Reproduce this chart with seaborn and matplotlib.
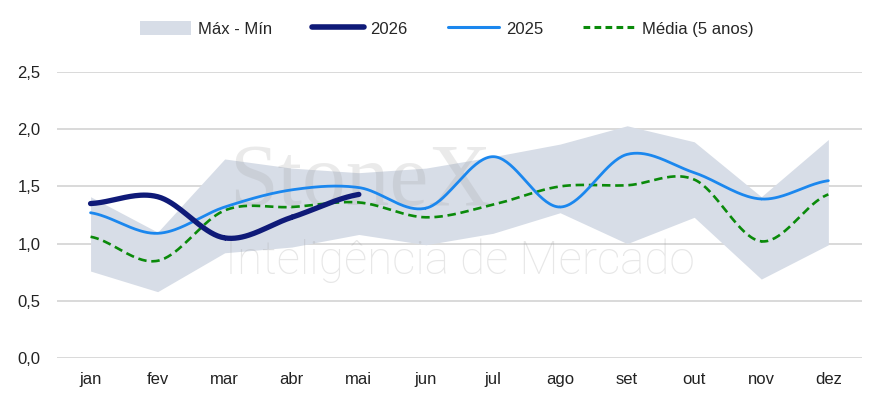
import numpy as np
import pandas as pd
import matplotlib
matplotlib.use("Agg")
import matplotlib.pyplot as plt
import seaborn as sns
from matplotlib.patches import Patch
from matplotlib.lines import Line2D

months = ["jan", "fev", "mar", "abr", "mai", "jun", "jul", "ago", "set", "out", "nov", "dez"]
max_vals = [1.41, 1.10, 1.74, 1.66, 1.62, 1.66, 1.76, 1.87, 2.03, 1.89, 1.41, 1.91]
min_vals = [0.76, 0.58, 0.92, 0.97, 1.08, 0.99, 1.09, 1.27, 1.00, 1.23, 0.69, 0.99]
vals_2026 = [1.35, 1.41, 1.05, 1.23, 1.43]
vals_2025 = [1.27, 1.09, 1.32, 1.47, 1.49, 1.31, 1.76, 1.32, 1.78, 1.62, 1.39, 1.55]
media_5y = [1.06, 0.85, 1.29, 1.32, 1.36, 1.23, 1.34, 1.50, 1.51, 1.56, 1.02, 1.43]


def smooth(values, n=40):
    # catmull-rom curve through the monthly points (like excel "smoothed line")
    y = np.asarray(values, dtype=float)
    p = np.concatenate([[y[0]], y, [y[-1]]])
    xs, ys = [], []
    for i in range(len(y) - 1):
        p0, p1, p2, p3 = p[i], p[i + 1], p[i + 2], p[i + 3]
        t = np.linspace(0, 1, n)
        seg = 0.5 * ((2 * p1) + (-p0 + p2) * t + (2 * p0 - 5 * p1 + 4 * p2 - p3) * t ** 2
                     + (-p0 + 3 * p1 - 3 * p2 + p3) * t ** 3)
        xs.append(i + t)
        ys.append(seg)
    return np.concatenate(xs), np.concatenate(ys)


sns.set_theme(style="white")
plt.rcParams["font.family"] = ["Liberation Sans", "DejaVu Sans"]

fig = plt.figure(figsize=(8.84, 4.08), dpi=100)
ax = fig.add_axes([0.0645, 0.1225, 0.9105, 0.701])

band_col = "#d7dde7"
c2026 = "#0f1a78"
c2025 = "#1b87ee"
cmed = "#0a8a0a"

x = np.arange(len(months))
ax.fill_between(x, min_vals, max_vals, color=band_col, lw=0, zorder=1)

xs, ys = smooth(media_5y)
sns.lineplot(x=xs, y=ys, ax=ax, color=cmed, lw=1.9, sort=False, estimator=None,
             linestyle=(0, (3.2, 1.8)), zorder=3)
xs, ys = smooth(vals_2025)
sns.lineplot(x=xs, y=ys, ax=ax, color=c2025, lw=2.0, sort=False, estimator=None, zorder=4)
xs, ys = smooth(vals_2026)
sns.lineplot(x=xs, y=ys, ax=ax, color=c2026, lw=3.8, sort=False, estimator=None, zorder=5)
ax.lines[-1].set_solid_capstyle("round")

# watermark
ax.text(0.377, 0.535, "StoneX", transform=ax.transAxes, ha="center", va="baseline",
        fontsize=63, family="Liberation Serif", color="#9a9a9a", alpha=0.2, zorder=2)
ax.text(0.50, 0.34, "Inteligência de Mercado", transform=ax.transAxes, ha="center", va="center",
        fontsize=33, family="Roboto", fontweight="light", color="#a0a0a0", alpha=0.25, zorder=2)

ax.set_xlim(-0.5, len(months) - 0.5)
ax.set_ylim(0, 2.5)
ax.set_xticks(x)
ax.set_xticklabels(months)
yt = [0, 0.5, 1.0, 1.5, 2.0, 2.5]
ax.set_yticks(yt)
ax.set_yticklabels([f"{v:.1f}".replace(".", ",") for v in yt])
ax.grid(axis="y", color="#d9d9d9", lw=1.4)
ax.grid(axis="x", visible=False)
ax.set_axisbelow(True)
for s in ax.spines.values():
    s.set_visible(False)
ax.tick_params(axis="both", length=0, labelsize=12, colors="#222222")
ax.tick_params(axis="y", pad=12)
ax.tick_params(axis="x", pad=10)
ax.set_xlabel("")
ax.set_ylabel("")

handles = [
    Patch(facecolor=band_col, edgecolor="none"),
    Line2D([], [], color=c2026, lw=4, solid_capstyle="round"),
    Line2D([], [], color=c2025, lw=2.2),
    Line2D([], [], color=cmed, lw=2.2, linestyle=(0, (2.2, 1.4))),
]
labels = ["Máx - Mín", "2026", "2025", "Média (5 anos)"]
fig.legend(handles, labels, loc="center", bbox_to_anchor=(0.505, 0.929), ncol=4, frameon=False,
           fontsize=12, handlelength=3.1, handleheight=0.9, handletextpad=0.4, columnspacing=2.4)

fig.savefig("out.png", dpi=100)
